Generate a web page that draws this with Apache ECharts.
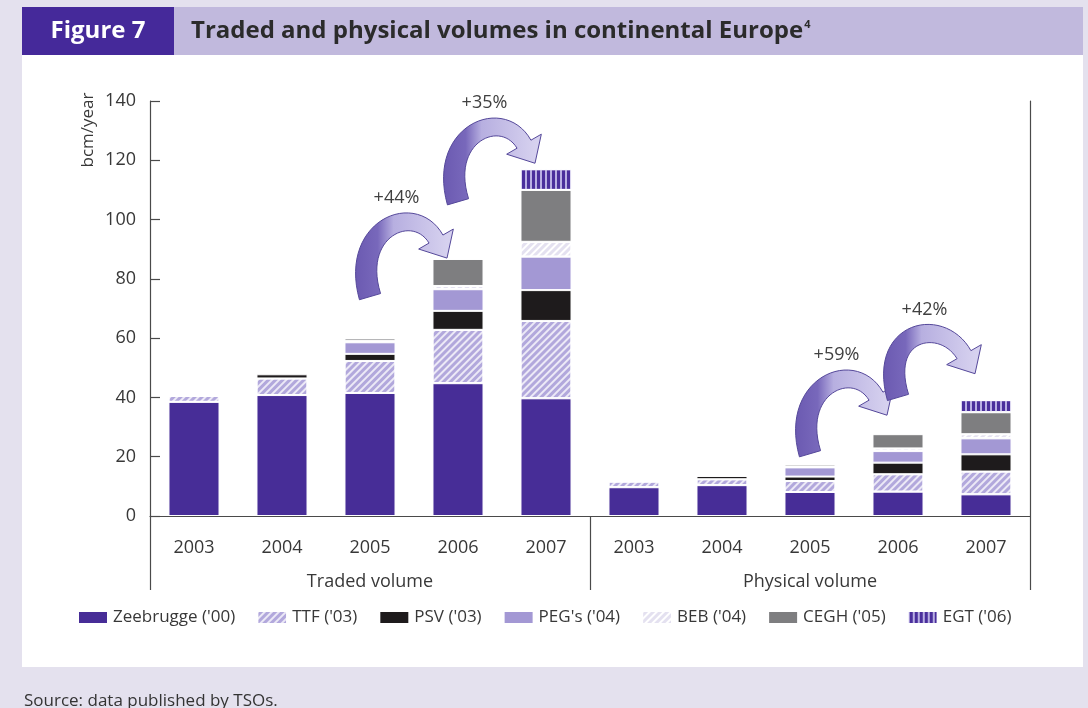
<!DOCTYPE html>
<html>
<head>
<meta charset="utf-8">
<title>Traded and physical volumes in continental Europe</title>
<script src="https://cdn.jsdelivr.net/npm/echarts@6.0.0/dist/echarts.min.js"></script>
<style>
  html, body { margin: 0; padding: 0; background: #e4e1ee; }
  #chart { width: 1088px; height: 708px; }
</style>
</head>
<body>
<div id="chart"></div>
<script>
// categories: five years of traded volume, then five years of physical volume
const years = ['2003', '2004', '2005', '2006', '2007'];
const groups = ['Traded volume', 'Physical volume'];
const categories = years.concat(years);

// bcm/year per hub, traded 2003-2007 then physical 2003-2007
const zeebrugge = [38.5, 40.8, 41.5, 44.8, 39.7, 9.7, 10.4, 8.1, 8.2, 7.3];
const ttf = [2.0, 5.6, 10.8, 18.0, 26.1, 1.9, 2.0, 3.7, 5.9, 7.7];
const psv = [null, 1.4, 2.4, 6.4, 10.4, null, 1.1, 1.5, 3.9, 5.8];
const pegs = [null, null, 3.9, 7.3, 11.3, null, null, 3.1, 3.9, 5.4];
const beb = [null, null, 0.4, 1.1, 5.0, null, null, 0.3, 0.9, 1.4];
const cegh = [null, null, 0.9, 9.1, 17.5, null, null, 0.7, 4.8, 7.4];
const egt = [null, null, null, null, 7.0, null, null, null, null, 4.1];

const yTicks = { min: 0, max: 140, interval: 20 };

// growth arrows: from bar, to bar, tail / tip height in bcm, label
const arrowFrom = [2, 3, 7, 8];
const arrowTo = [3, 4, 8, 9];
const arrowTailValue = [74, 106, 21, 40];
const arrowTipValue = [87, 119, 34, 48];
const arrowLabels = ['+44%', '+35%', '+59%', '+42%'];

const FONT = "'Open Sans', sans-serif";
const AXIS = '#4a4a4a';
const TEXT = '#383838';

function stripes(color, rotation, on, off) {
  return { symbol: 'rect', symbolSize: 1, color: color, dashArrayX: [1, 0], dashArrayY: [on, off], rotation: rotation };
}

function barSeries(name, data, color, decal) {
  const s = {
    name: name,
    type: 'bar',
    stack: 'hubs',
    data: data,
    barWidth: '58%',
    itemStyle: { color: color, borderColor: '#fff', borderWidth: 1 },
    emphasis: { disabled: true },
  };
  if (decal) {
    s.itemStyle.decal = decal;
  }
  return s;
}

function renderArrow(params, api) {
  const tail = api.coord([api.value(0), api.value(1)]);
  const tip = api.coord([api.value(2), api.value(3)]);
  tip[0] -= 11;

  const th = 60 * Math.PI / 180;
  const dir = [Math.cos(th), Math.sin(th)];
  const headLen = 22;
  const headHalf = 20;
  const neck = [tip[0] - headLen * dir[0], tip[1] - headLen * dir[1]];
  const c1 = [tail[0] - 20, tail[1] - 68];
  const c2 = [neck[0] - 44 * dir[0], neck[1] - 44 * dir[1]];

  const left = [];
  const right = [];
  const n = 30;
  for (let i = 0; i <= n; i++) {
    const t = i / n;
    const u = 1 - t;
    const px = u * u * u * tail[0] + 3 * u * u * t * c1[0] + 3 * u * t * t * c2[0] + t * t * t * neck[0];
    const py = u * u * u * tail[1] + 3 * u * u * t * c1[1] + 3 * u * t * t * c2[1] + t * t * t * neck[1];
    let dx = 3 * u * u * (c1[0] - tail[0]) + 6 * u * t * (c2[0] - c1[0]) + 3 * t * t * (neck[0] - c2[0]);
    let dy = 3 * u * u * (c1[1] - tail[1]) + 6 * u * t * (c2[1] - c1[1]) + 3 * t * t * (neck[1] - c2[1]);
    const len = Math.sqrt(dx * dx + dy * dy) || 1;
    dx /= len;
    dy /= len;
    const w = 11 + (8 - 11) * t;
    left.push([px - dy * w, py + dx * w]);
    right.push([px + dy * w, py - dx * w]);
  }
  const nx = -dir[1];
  const ny = dir[0];
  const points = left.concat(
    [[neck[0] + nx * headHalf, neck[1] + ny * headHalf], tip, [neck[0] - nx * headHalf, neck[1] - ny * headHalf]],
    right.reverse()
  );
  let minY = Infinity;
  points.forEach(function (p) { minY = Math.min(minY, p[1]); });

  return {
    type: 'group',
    children: [
      {
        type: 'polygon',
        shape: { points: points },
        style: {
          fill: {
            type: 'linear', global: true,
            x: tail[0] - 22, y: 0, x2: tip[0], y2: 0,
            colorStops: [
              { offset: 0, color: '#6755ae' },
              { offset: 0.3, color: '#7868bb' },
              { offset: 0.46, color: '#b7afe0' },
              { offset: 1, color: '#d6d1ef' },
            ],
          },
          stroke: '#55489a',
          lineWidth: 1,
        },
      },
      {
        type: 'text',
        style: {
          text: arrowLabels[params.dataIndex],
          x: (tail[0] + tip[0]) / 2 - 12,
          y: minY - 6,
          align: 'center',
          verticalAlign: 'bottom',
          fill: '#404040',
          fontSize: 18,
          fontFamily: FONT,
        },
      },
    ],
  };
}

const arrowData = arrowFrom.map(function (f, i) {
  return [f, arrowTailValue[i], arrowTo[i], arrowTipValue[i]];
});

const seriesNames = ["Zeebrugge ('00)", "TTF ('03)", "PSV ('03)", "PEG's ('04)", "BEB ('04)", "CEGH ('05)", "EGT ('06)"];

const chart = echarts.init(document.getElementById('chart'));

chart.setOption({
  backgroundColor: '#e4e1ee',
  animation: false,
  textStyle: { fontFamily: FONT },
  title: {
    text: 'Traded and physical volumes in continental Europe{s|4}',
    left: 186,
    top: 14,
    textStyle: {
      fontSize: 24,
      fontWeight: 'bold',
      color: '#2b2b2b',
      fontFamily: FONT,
      rich: {
        s: { fontSize: 11, fontWeight: 'bold', color: '#2b2b2b', verticalAlign: 'top', padding: [0, 0, 14, 1] },
      },
    },
  },
  graphic: [
    { type: 'rect', z: -100, shape: { x: 22, y: 55, width: 1061, height: 612 }, style: { fill: '#ffffff' } },
    { type: 'rect', z: -100, shape: { x: 22, y: 7, width: 1061, height: 48 }, style: { fill: '#c1b9dd' } },
    { type: 'rect', z: -99, shape: { x: 22, y: 7, width: 152, height: 48 }, style: { fill: '#45299a' } },
    {
      type: 'text', x: 98, y: 31,
      style: { text: 'Figure 7', fill: '#ffffff', fontSize: 24, fontWeight: 'bold', fontFamily: FONT, align: 'center', verticalAlign: 'middle' },
    },
    {
      type: 'text', x: 88, y: 130, rotation: Math.PI / 2,
      style: { text: 'bcm/year', fill: TEXT, fontSize: 17, fontFamily: FONT, align: 'center', verticalAlign: 'middle' },
    },
    {
      type: 'text', x: 24, y: 701,
      style: { text: 'Source: data published by TSOs.', fill: '#333', fontSize: 17, fontFamily: FONT, verticalAlign: 'middle' },
    },
  ],
  legend: {
    data: seriesNames,
    left: 72,
    top: 604,
    icon: 'rect',
    itemWidth: 30,
    itemHeight: 13,
    itemGap: 21,
    selectedMode: false,
    textStyle: { fontSize: 17, color: TEXT, fontFamily: FONT },
  },
  grid: { left: 150, right: 58, top: 101, bottom: 192, containLabel: false },
  xAxis: [
    {
      type: 'category',
      data: categories,
      position: 'bottom',
      axisLine: { lineStyle: { color: AXIS, width: 1.2 } },
      axisTick: { inside: true, length: 10, lineStyle: { color: AXIS, width: 1.2 } },
      axisLabel: { color: TEXT, fontSize: 18, margin: 23, interval: 0 },
      splitLine: { show: false },
    },
    {
      type: 'category',
      data: groups,
      position: 'bottom',
      axisLine: { show: false },
      axisTick: { show: true, length: 74, lineStyle: { color: AXIS, width: 1.2 } },
      axisLabel: { color: TEXT, fontSize: 18, margin: 57, interval: 0 },
      splitLine: { show: false },
    },
  ],
  yAxis: [
    {
      type: 'value',
      min: yTicks.min,
      max: yTicks.max,
      interval: yTicks.interval,
      axisLine: { show: true, lineStyle: { color: AXIS, width: 1.2 } },
      axisTick: { show: true, inside: true, length: 10, lineStyle: { color: AXIS, width: 1.2 } },
      axisLabel: { color: TEXT, fontSize: 18, margin: 14 },
      splitLine: { show: false },
    },
    {
      type: 'value',
      position: 'right',
      min: yTicks.min,
      max: yTicks.max,
      interval: yTicks.interval,
      axisLine: { show: true, lineStyle: { color: AXIS, width: 1.2 } },
      axisTick: { show: false },
      axisLabel: { show: false },
      splitLine: { show: false },
    },
  ],
  series: [
    barSeries(seriesNames[0], zeebrugge, '#472d97'),
    barSeries(seriesNames[1], ttf, '#b2a8dc', stripes('rgba(255,255,255,0.75)', -Math.PI / 4, 1.5, 2.5)),
    barSeries(seriesNames[2], psv, '#1e1b1c'),
    barSeries(seriesNames[3], pegs, '#a398d4'),
    barSeries(seriesNames[4], beb, '#e4e1f0', stripes('#ffffff', -Math.PI / 4, 2, 3)),
    barSeries(seriesNames[5], cegh, '#7e7e80'),
    barSeries(seriesNames[6], egt, '#4a2f9c', { symbol: 'rect', symbolSize: 1, color: '#b9b0e3', dashArrayX: [1.5, 3], dashArrayY: [1, 0], rotation: 0 }),
    {
      type: 'custom',
      name: 'growth',
      xAxisIndex: 0,
      yAxisIndex: 0,
      data: arrowData,
      encode: { x: [0, 2], y: [1, 3] },
      renderItem: renderArrow,
      clip: false,
      z: 5,
      silent: true,
    },
  ],
});
</script>
</body>
</html>
